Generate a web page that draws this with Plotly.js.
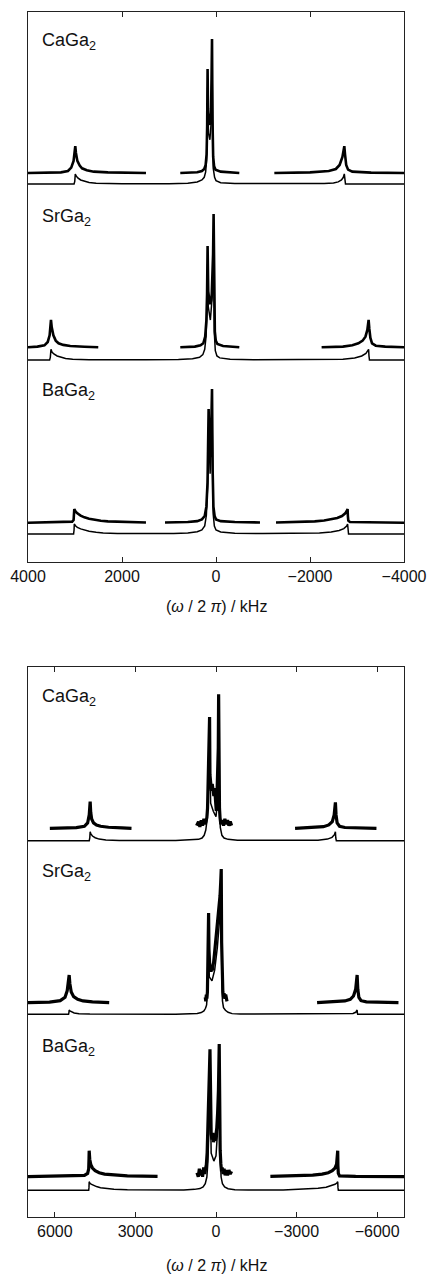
<!DOCTYPE html>
<html>
<head>
<meta charset="utf-8">
<script src="https://cdn.plot.ly/plotly-3.0.1.min.js"></script>
<style>
  html, body { margin: 0; padding: 0; background: #fff; }
  #chart { width: 428px; height: 1279px; }
</style>
</head>
<body>
<div id="chart"></div>
<script>
// ---------------- DATA (frequency in kHz, relative intensity; tallest central exp peak = 100) ----------------
const compounds = ['CaGa<sub>2</sub>', 'SrGa<sub>2</sub>', 'BaGa<sub>2</sub>'];
const topTickVals = [4000, 2000, 0, -2000, -4000];
const topTickText = ['4000', '2000', '0', '\u22122000', '\u22124000'];
const botTickVals = [6000, 3000, 0, -3000, -6000];
const botTickText = ['6000', '3000', '0', '\u22123000', '\u22126000'];
const axisTitle = '(<i>\u03C9</i> / 2 <i>\u03C0</i>) / kHz';

// ---- upper panel (range 4000 .. -4000 kHz) ----
const caTopExp = [[4000,0],[3300,0.5],[3150,1.5],[3080,4],[3030,9],[3005,16],[2994,20],[2980,15],[2950,9],[2900,5.5],[2850,3.5],[2750,2],[2600,1],[2300,0.5],[1490,0],[null,null],
  [760,0],[400,0.5],[300,1.5],[250,3],[220,6],[200,14],[188,35],[179,77.6],[170,45],[155,38],[135,36],[120,38],[105,48],[95,70],[85,100],[75,40],[60,12],[40,5],[10,2.5],[-100,1],[-496,0],[null,null],
  [-1241,0],[-2000,0.5],[-2400,1.5],[-2550,3],[-2630,6],[-2690,12],[-2720,18],[-2730,20],[-2745,14],[-2770,6],[-2810,2.5],[-2900,1],[-3300,0.3],[-4000,0]];
const caTopSim = [[4000,0],[3020,0],[3005,2],[2994,7.5],[2975,6],[2940,4.5],[2880,3],[2800,2],[2700,1.2],[2550,0.5],[2300,0.2],[2000,0.1],[1000,0.2],[600,0.6],[400,1.5],[300,3],[250,5],[220,9],[200,18],[190,40],[179,72],[160,38],[130,33],[105,45],[85,92],[60,12],[30,5],[0,2.5],[-100,1],[-400,0.3],[-1500,0.1],[-2300,0.3],[-2500,0.8],[-2600,1.6],[-2670,3],[-2710,5],[-2730,7.5],[-2740,3],[-2755,0],[-4000,0]];

const srTopExp = [[4000,0],[3800,0.5],[3650,1.5],[3580,4],[3540,9],[3520,16],[3511,20.5],[3495,15],[3460,9],[3410,5],[3350,3],[3250,1.8],[3100,1],[2800,0.4],[2505,0],[null,null],
  [760,0],[450,0.5],[330,1.5],[270,3],[230,8],[205,20],[190,40],[179,76],[165,42],[150,35],[135,33],[120,33],[105,35],[90,40],[75,52],[62,70],[51,100],[40,40],[25,12],[5,5],[-30,2.5],[-150,1],[-496,0],[null,null],
  [-2247,0],[-2700,0.5],[-2900,1.5],[-3030,3],[-3120,5],[-3180,8],[-3220,13],[-3240,18],[-3247,20.5],[-3262,14],[-3285,7],[-3320,3],[-3400,1.2],[-3600,0.5],[-4000,0]];
const srTopSim = [[4000,0],[3540,0],[3525,2],[3511,8],[3490,6],[3450,4.5],[3380,3],[3300,2],[3200,1.2],[3050,0.5],[2700,0.2],[1500,0.1],[800,0.3],[500,1],[350,2],[280,4],[240,8],[210,18],[190,40],[179,72],[165,40],[120,30],[75,50],[51,92],[35,20],[15,7],[-20,3],[-80,1.6],[-300,0.6],[-800,0.2],[-2000,0.2],[-2700,0.6],[-2950,1.5],[-3100,3],[-3190,5],[-3235,7],[-3247,8],[-3255,3],[-3265,0],[-4000,0]];

const baTopExp = [[4000,0],[3200,0.3],[3060,0.8],[3030,2],[3020,6],[3015,10.2],[2990,8.5],[2950,7],[2880,5.3],[2800,4],[2700,3],[2600,2.2],[2450,1.5],[2300,1],[2000,0.5],[1490,0.2],[null,null],
  [1085,0.2],[600,0.5],[400,1.2],[300,2.5],[240,5],[205,12],[180,30],[165,60],[157,85],[140,55],[125,49],[110,55],[97,75],[85,100],[72,40],[55,12],[30,5],[0,2.5],[-100,1.2],[-400,0.5],[-936,0.2],[null,null],
  [-1277,0.2],[-1800,0.5],[-2100,1],[-2300,1.6],[-2450,2.4],[-2580,3.5],[-2680,5],[-2750,7],[-2785,9],[-2800,10.2],[-2806,5],[-2815,1.5],[-2850,0.5],[-3200,0.2],[-4000,0]];
const baTopSim = [[4000,0],[3030,0],[3020,3],[3015,7.5],[2990,6.2],[2950,5],[2880,3.8],[2800,2.8],[2700,2],[2550,1.3],[2400,0.8],[2100,0.4],[1500,0.2],[900,0.4],[600,0.8],[400,1.7],[300,3],[240,6],[205,14],[180,35],[157,80],[125,45],[85,92],[60,15],[35,6],[0,3],[-100,1.5],[-400,0.6],[-1000,0.3],[-1800,0.4],[-2200,0.8],[-2450,1.5],[-2620,2.6],[-2720,4],[-2780,6],[-2800,7.5],[-2808,3],[-2820,0],[-4000,0]];

// ---- lower panel (range 7000 .. -7000 kHz) ----
const caBotExp = [[6187,0],[5200,0.5],[4900,1.5],[4780,4],[4720,10],[4695,17],[4685,20],[4665,12],[4630,7],[4560,4],[4450,2.5],[4300,1.5],[4000,0.8],[3500,0.3],[3146,0],[null,null],
  [723,2],[650,5],[600,1],[550,6],[500,2],[450,7],[400,3],[370,5],[340,8],[315,15],[290,35],[265,60],[239,83],[225,40],[200,30],[170,28],[140,33],[110,27],[80,24],[50,30],[20,22],[-10,13],[-30,20],[-50,30],[-70,38],[-85,60],[-98,100],[-110,40],[-130,15],[-150,8],[-180,3],[-230,6],[-280,2],[-330,7],[-380,3],[-430,6],[-480,2],[-530,5],[-581,2],[null,null],
  [-2944,0],[-3600,0.5],[-4000,1.2],[-4200,2.5],[-4330,5],[-4400,10],[-4430,16],[-4446,19.4],[-4470,10],[-4510,4],[-4600,1.5],[-4800,0.6],[-5975,0]];
const caBotSim = [[7000,0],[4720,0],[4700,2],[4685,6.7],[4660,5],[4600,3.5],[4500,2.2],[4350,1.2],[4100,0.5],[3600,0.2],[1500,0.1],[900,0.4],[650,1],[520,2],[440,4],[380,8],[330,16],[290,32],[260,55],[239,78],[200,28],[100,22],[0,18],[-60,30],[-98,92],[-120,30],[-160,10],[-220,4],[-300,2],[-450,1],[-800,0.3],[-2500,0.1],[-3800,0.4],[-4150,1.2],[-4320,2.5],[-4410,4.5],[-4446,6.7],[-4460,2],[-4480,0],[-7000,0]];

const srBotExp = [[7000,0],[6200,0.5],[5800,1.5],[5620,4],[5540,9],[5490,16],[5467,20.7],[5440,14],[5390,8],[5300,4.5],[5150,2.5],[4950,1.3],[4600,0.6],[3977,0],[null,null],
  [400,4],[380,1],[360,6],[340,3],[320,8],[300,30],[288,50],[276,67],[262,40],[245,30],[225,24],[205,28],[185,23],[165,27],[140,24],[115,28],[90,30],[60,36],[30,42],[0,48],[-40,55],[-80,62],[-120,70],[-150,80],[-175,90],[-195,100],[-210,45],[-230,15],[-255,8],[-280,4],[-300,7],[-330,3],[-360,6],[-410,1],[null,null],
  [-3764,0],[-4400,0.5],[-4800,1.3],[-5000,2.5],[-5120,5],[-5200,10],[-5240,16],[-5255,20.7],[-5280,10],[-5320,4],[-5400,1.5],[-5600,0.6],[-6794,0]];
const srBotSim = [[7000,0],[5490,0],[5475,1.5],[5467,3.2],[5440,2.5],[5380,1.7],[5280,1],[5100,0.5],[4700,0.2],[1500,0.1],[1000,0.2],[700,0.6],[550,1.3],[450,2.5],[390,4.5],[350,7],[310,20],[287,60],[250,28],[150,25],[50,33],[-50,50],[-150,75],[-195,92],[-215,30],[-240,10],[-280,5],[-350,3],[-450,1.5],[-600,0.5],[-900,0.2],[-4500,0.1],[-5100,0.6],[-5200,1.5],[-5245,2.5],[-5255,3.2],[-5263,1],[-5275,0],[-7000,0]];

const baBotExp = [[7000,0],[5500,0.3],[4900,1],[4780,2.5],[4740,6],[4728,14],[4722,19.6],[4700,13],[4660,9],[4600,6.5],[4500,4.5],[4350,3],[4150,2],[3800,1.2],[3300,0.6],[2176,0.2],[null,null],
  [708,3],[660,0],[620,6],[580,1],[540,5],[500,0],[460,7],[420,2],[390,6],[360,9],[330,18],[300,35],[270,60],[245,80],[224,96],[205,45],[180,32],[150,28],[120,33],[90,26],[60,31],[30,27],[0,32],[-30,37],[-60,48],[-90,65],[-120,100],[-135,50],[-155,20],[-180,10],[-205,4],[-230,7],[-265,2],[-300,6],[-340,1],[-380,5],[-430,1],[-480,5],[-530,2],[-581,4],[null,null],
  [-2024,0.2],[-3000,0.6],[-3600,1.2],[-3950,2],[-4180,3],[-4330,4.5],[-4430,6.5],[-4490,9.5],[-4520,14],[-4532,19.6],[-4540,8],[-4555,2.5],[-4600,0.6],[-5200,0.2],[-7000,0]];
const baBotSim = [[7000,0],[4740,0],[4730,2],[4722,6.5],[4700,5.5],[4650,4.6],[4560,3.6],[4450,2.8],[4300,2],[4100,1.3],[3800,0.8],[3300,0.4],[2500,0.2],[1200,0.3],[800,0.7],[600,1.3],[480,2.5],[400,5],[340,10],[300,22],[260,50],[224,90],[180,28],[80,22],[0,26],[-60,45],[-120,92],[-150,30],[-190,10],[-240,5],[-320,2.5],[-450,1.2],[-700,0.5],[-1200,0.2],[-2500,0.3],[-3300,0.8],[-3800,1.5],[-4100,2.3],[-4300,3.3],[-4430,4.5],[-4500,5.5],[-4532,6.5],[-4542,2],[-4555,0],[-7000,0]];

// ---------------- LAYOUT (pixel geometry of the page) ----------------
const W = 428, H = 1279;
const plotL = 28, plotR = 404, plotT = 12, plotB = 1217;
const py = p => (plotB - p) / (plotB - plotT);   // page px -> paper fraction
const px = p => (p - plotL) / (plotR - plotL);

const panels = [
  { T: 12, B: 562, xa: 'x', fy: 'y', range: [4000, -4000], tv: topTickVals, tt: topTickText, expW: 2.6, titleY: 606,
    subs: [
      { exp: caTopExp, sim: caTopSim, simBase: 184, expBase: 173, peakTop: 39, capTop: 32 },
      { exp: srTopExp, sim: srTopSim, simBase: 360, expBase: 347.3, peakTop: 214, capTop: 208 },
      { exp: baTopExp, sim: baTopSim, simBase: 534, expBase: 522.7, peakTop: 389, capTop: 382 } ] },
  { T: 667, B: 1217, xa: 'x2', fy: 'y5', range: [7000, -7000], tv: botTickVals, tt: botTickText, expW: 3.2, titleY: 1265,
    subs: [
      { exp: caBotExp, sim: caBotSim, simBase: 840.7, expBase: 828.3, peakTop: 694.3, capTop: 688 },
      { exp: srBotExp, sim: srBotSim, simBase: 1014.3, expBase: 1002.7, peakTop: 869, capTop: 863 },
      { exp: baBotExp, sim: baBotSim, simBase: 1190.3, expBase: 1176.7, peakTop: 1044, capTop: 1038 } ] }
];

const FONT = 'Liberation Sans, Arial, Helvetica, sans-serif';
const INK = '#111';
const layout = {
  width: W, height: H,
  margin: { l: plotL, r: W - plotR, t: plotT, b: H - plotB, pad: 0 },
  paper_bgcolor: '#fff', plot_bgcolor: 'rgba(0,0,0,0)',
  showlegend: false,
  font: { family: FONT, size: 16, color: INK },
  annotations: [], shapes: []
};
const traces = [];
let yIdx = 1;

panels.forEach((pan, pi) => {
  const dom = [py(pan.B), py(pan.T)];
  const xname = pan.xa === 'x' ? 'xaxis' : 'xaxis2';
  const frameName = 'yaxis' + (yIdx === 1 ? '' : yIdx);
  const frameRef = pan.fy;
  layout[xname] = {
    domain: [0, 1], range: pan.range, anchor: frameRef,
    showline: true, linecolor: '#222', linewidth: 1, mirror: 'ticks',
    ticks: 'inside', ticklen: 5, tickwidth: 1, tickcolor: '#222',
    tickmode: 'array', tickvals: pan.tv, ticktext: pan.tt,
    tickfont: { family: FONT, size: 16, color: INK },
    showgrid: false, zeroline: false, fixedrange: true
  };
  layout[frameName] = {
    domain: dom, range: [0, 1], anchor: pan.xa,
    showline: true, linecolor: '#222', linewidth: 1, mirror: true,
    ticks: '', showticklabels: false, showgrid: false, zeroline: false, fixedrange: true
  };
  traces.push({ type: 'scatter', mode: 'lines', x: [], y: [], xaxis: pan.xa, yaxis: frameRef, hoverinfo: 'skip' });
  yIdx++;

  pan.subs.forEach((s, si) => {
    const s_ppu = (s.expBase - s.peakTop) / 100;      // px per intensity unit
    const off = (s.simBase - s.expBase) / s_ppu;       // exp trace lifted above simulation
    const lo = -(pan.B - s.simBase) / s_ppu;
    const hi = (s.simBase - pan.T) / s_ppu;
    const yname = 'yaxis' + yIdx, yref = 'y' + yIdx;
    layout[yname] = { domain: dom, range: [lo, hi], anchor: pan.xa, visible: false, fixedrange: true };
    traces.push({
      type: 'scatter', mode: 'lines', xaxis: pan.xa, yaxis: yref,
      x: s.sim.map(p => p[0]), y: s.sim.map(p => p[1]),
      line: { color: '#000', width: 1.5 }, connectgaps: false, hoverinfo: 'skip'
    });
    traces.push({
      type: 'scatter', mode: 'lines', xaxis: pan.xa, yaxis: yref,
      x: s.exp.map(p => p[0]), y: s.exp.map(p => p[1] === null ? null : p[1] + off),
      line: { color: '#000', width: pan.expW }, connectgaps: false, hoverinfo: 'skip'
    });
    layout.annotations.push({
      xref: 'paper', yref: 'paper', x: px(40), y: py(s.capTop - 4),
      xanchor: 'left', yanchor: 'top', showarrow: false,
      text: compounds[si], font: { family: FONT, size: 18, color: INK }
    });
    yIdx++;
  });

  layout.annotations.push({
    xref: 'paper', yref: 'paper', x: px(216.5), y: py(pan.titleY),
    xanchor: 'center', yanchor: 'middle', showarrow: false,
    text: axisTitle, font: { family: FONT, size: 16, color: INK }
  });
});

Plotly.newPlot('chart', traces, layout, { staticPlot: true, displayModeBar: false });
</script>
</body>
</html>
